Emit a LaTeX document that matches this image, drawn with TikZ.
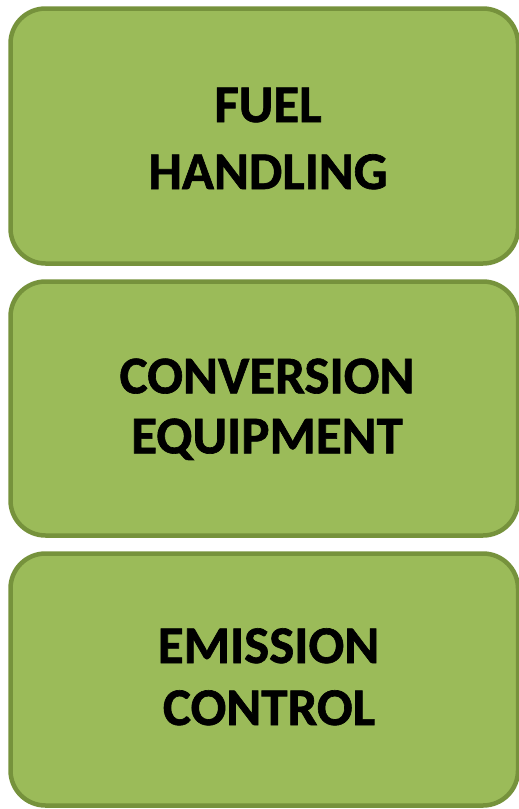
\documentclass[tikz,border=0pt]{standalone}
\usepackage{fontspec}
\setmainfont{Carlito}[BoldFeatures={FakeBold=1.2}]
\definecolor{boxfill}{HTML}{9BBB59}
\definecolor{boxline}{HTML}{76923C}
\tikzset{
  greenbox/.style={draw=boxline, line width=4.5pt, fill=boxfill, rounded corners=35pt},
  lbl/.style={anchor=base, inner sep=0pt, font=\fontsize{53}{62}\selectfont\bfseries, text=black}
}
\begin{document}
\begin{tikzpicture}[x=1pt,y=1pt]
\useasboundingbox (0,0) rectangle (519,-809);
% boxes
\draw[greenbox] (10.5,-8.5) rectangle (518,-263.5);
\draw[greenbox] (10.5,-281.5) rectangle (518,-535.5);
\draw[greenbox] (10.5,-553.5) rectangle (518,-805.5);
% labels
\node[lbl] (t1) at (268,-122) {FUEL};
\node[lbl] (t2) at (268,-189) {HANDLING};
\node[lbl] (t3) at (267,-393.3) {CONVERSION};
\node[lbl] (t4) at (267,-453.3) {EQUIPMENT};
\node[lbl] (t5) at (268.5,-663) {EMISSION};
\node[lbl] (t6) at (269,-725) {CONTROL};
\end{tikzpicture}
\end{document}
